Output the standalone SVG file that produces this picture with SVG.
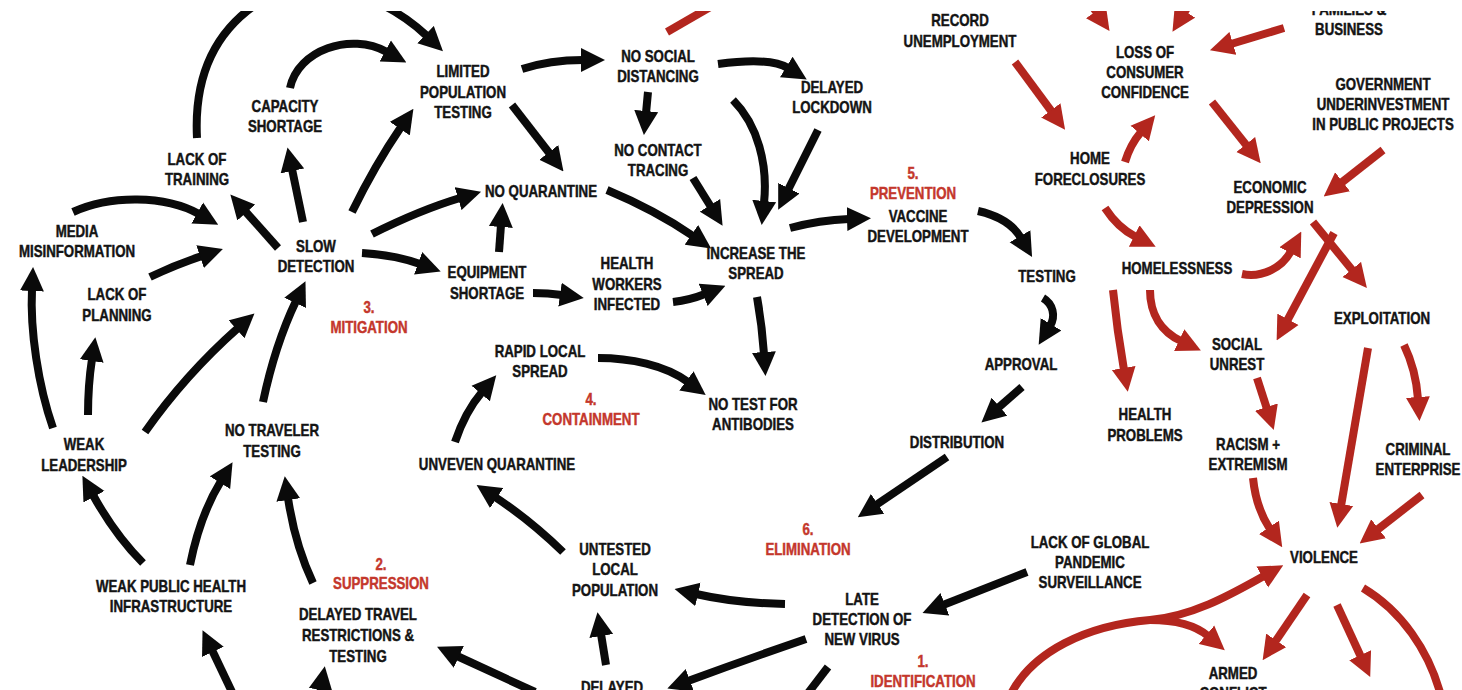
<svg xmlns="http://www.w3.org/2000/svg" width="1462" height="690" viewBox="0 0 1462 690">
<defs>
<style>
text{font-family:"Liberation Sans",Arial,sans-serif;font-weight:bold;font-size:16px;text-anchor:middle;fill:#141414;stroke:#141414;stroke-width:0.45}
.lbl text{fill:#c4372c;stroke:#c4372c}
.k{fill:none;stroke:#0a0a0a;stroke-width:8;marker-end:url(#hk)}
.kn{fill:none;stroke:#0a0a0a;stroke-width:8}
.r{fill:none;stroke:#b3261e;stroke-width:8;marker-end:url(#hr)}
.rn{fill:none;stroke:#b3261e;stroke-width:8}
</style>
<marker id="hk" viewBox="0 0 24 24" refX="2" refY="12" markerWidth="24" markerHeight="25" markerUnits="userSpaceOnUse" orient="auto"><path d="M0,0 L24,12 L0,24 z" fill="#0a0a0a"/></marker>
<marker id="hr" viewBox="0 0 24 24" refX="2" refY="12" markerWidth="24" markerHeight="25" markerUnits="userSpaceOnUse" orient="auto"><path d="M0,0 L24,12 L0,24 z" fill="#b3261e"/></marker>
</defs>
<rect width="1462" height="690" fill="#fff"/>
<g id="connectors">
<path class="kn" d="M197,138 C194,80 212,35 255,5"/>
<path class="k" d="M290,88 C298,50 350,32 387,52"/>
<path class="k" d="M383,5 Q408,18 427,36"/>
<path class="k" d="M522,69 Q550,60 583,60"/>
<path class="k" d="M718,64 C748,60 775,60 788,68"/>
<path class="k" d="M648,92 L646,113"/>
<path class="k" d="M733,100 C758,125 768,165 764,203"/>
<path class="k" d="M818,130 L788,190"/>
<path class="k" d="M693,178 L711,207"/>
<path class="k" d="M512,105 L550,154"/>
<path class="k" d="M607,190 Q655,210 693,236"/>
<path class="k" d="M372,234 Q420,210 460,198"/>
<path class="k" d="M352,212 Q375,165 401,127"/>
<path class="k" d="M303,222 L292,169"/>
<path class="k" d="M278,248 L245,211"/>
<path class="k" d="M362,253 Q395,255 420,264"/>
<path class="k" d="M499,252 L501,225"/>
<path class="k" d="M533,293 Q548,293 562,295"/>
<path class="k" d="M673,302 Q690,300 705,294"/>
<path class="k" d="M790,228 Q820,220 849,219"/>
<path class="k" d="M757,297 Q762,325 764,354"/>
<path class="k" d="M978,211 C1000,216 1014,226 1021,238"/>
<path class="k" d="M1043,298 C1053,304 1056,316 1050,326"/>
<path class="k" d="M1022,387 L998,408"/>
<path class="k" d="M947,457 L876,505"/>
<path class="k" d="M1027,572 L943,605"/>
<path class="k" d="M785,604 Q735,603 696,594"/>
<path class="k" d="M806,639 Q745,660 688,681"/>
<path class="kn" d="M828,667 L805,697"/>
<path class="k" d="M606,665 L601,634"/>
<path class="k" d="M535,692 L457,656"/>
<path class="k" d="M318,705 L321,688"/>
<path class="k" d="M232,692 L212,650"/>
<path class="k" d="M143,563 Q115,535 93,495"/>
<path class="k" d="M190,565 Q200,515 221,481"/>
<path class="k" d="M313,583 Q295,545 288,498"/>
<path class="k" d="M263,402 Q275,345 296,301"/>
<path class="k" d="M145,432 Q185,375 238,328"/>
<path class="k" d="M88,415 Q88,385 92,359"/>
<path class="k" d="M53,428 C38,385 30,330 32,289"/>
<path class="k" d="M150,277 Q175,265 202,256"/>
<path class="k" d="M73,212 C110,195 165,195 199,214"/>
<path class="k" d="M563,552 Q530,520 495,497"/>
<path class="k" d="M455,442 Q465,412 482,392"/>
<path class="k" d="M598,358 C630,358 665,365 688,382"/>
<path class="rn" d="M667,32 L712,6"/>
<path class="r" d="M1088,0 L1097,13"/>
<path class="r" d="M1192,0 L1184,13"/>
<path class="r" d="M1284,28 L1231,44"/>
<path class="r" d="M1015,62 L1052,112"/>
<path class="r" d="M1125,162 Q1130,145 1141,132"/>
<path class="r" d="M1212,102 L1247,146"/>
<path class="r" d="M1383,150 L1341,183"/>
<path class="r" d="M1105,208 Q1118,228 1136,237"/>
<path class="r" d="M1242,274 C1262,278 1282,268 1291,251"/>
<path class="r" d="M1313,222 L1353,271"/>
<path class="r" d="M1334,233 L1287,321"/>
<path class="r" d="M1113,290 Q1117,330 1124,370"/>
<path class="r" d="M1150,290 C1150,315 1162,332 1181,341"/>
<path class="r" d="M1257,378 L1267,409"/>
<path class="r" d="M1253,478 Q1256,508 1270,529"/>
<path class="r" d="M1368,348 L1341,506"/>
<path class="r" d="M1404,345 Q1416,370 1418,399"/>
<path class="r" d="M1422,495 L1377,530"/>
<path class="r" d="M1008,700 C1030,650 1090,625 1150,620 C1195,616 1235,592 1264,576"/>
<path class="r" d="M1150,620 C1175,620 1195,625 1208,636"/>
<path class="r" d="M1307,595 L1275,642"/>
<path class="r" d="M1337,605 L1361,657"/>
<path class="rn" d="M1363,588 C1400,610 1430,650 1442,700"/>
</g>
<g id="n_lack_training" transform="translate(197,0) scale(0.83,1)"><text x="0" y="165">LACK OF</text><text x="0" y="185">TRAINING</text></g>
<g id="n_capacity" transform="translate(285,0) scale(0.83,1)"><text x="0" y="112">CAPACITY</text><text x="0" y="132">SHORTAGE</text></g>
<g id="n_media" transform="translate(77,0) scale(0.83,1)"><text x="0" y="237">MEDIA</text><text x="0" y="257">MISINFORMATION</text></g>
<g id="n_slow" transform="translate(316,0) scale(0.83,1)"><text x="0" y="252">SLOW</text><text x="0" y="272">DETECTION</text></g>
<g id="n_lack_planning" transform="translate(117,0) scale(0.83,1)"><text x="0" y="300">LACK OF</text><text x="0" y="321">PLANNING</text></g>
<g id="lbl_mitigation" class="lbl" transform="translate(369,0) scale(0.83,1)"><text x="0" y="313">3.</text><text x="0" y="333">MITIGATION</text></g>
<g id="n_weak_leadership" transform="translate(84,0) scale(0.83,1)"><text x="0" y="450">WEAK</text><text x="0" y="471">LEADERSHIP</text></g>
<g id="n_no_traveler" transform="translate(272,0) scale(0.83,1)"><text x="0" y="436">NO TRAVELER</text><text x="0" y="457">TESTING</text></g>
<g id="n_weak_public" transform="translate(171,0) scale(0.83,1)"><text x="0" y="592">WEAK PUBLIC HEALTH</text><text x="0" y="612">INFRASTRUCTURE</text></g>
<g id="lbl_suppression" class="lbl" transform="translate(381,0) scale(0.83,1)"><text x="0" y="570">2.</text><text x="0" y="589">SUPPRESSION</text></g>
<g id="n_delayed_travel" transform="translate(358,0) scale(0.83,1)"><text x="0" y="620">DELAYED TRAVEL</text><text x="0" y="641">RESTRICTIONS &amp;</text><text x="0" y="662">TESTING</text></g>
<g id="n_limited" transform="translate(463,0) scale(0.83,1)"><text x="0" y="77">LIMITED</text><text x="0" y="98">POPULATION</text><text x="0" y="118">TESTING</text></g>
<g id="n_no_social" transform="translate(658,0) scale(0.83,1)"><text x="0" y="62">NO SOCIAL</text><text x="0" y="82">DISTANCING</text></g>
<g id="n_no_contact" transform="translate(658,0) scale(0.83,1)"><text x="0" y="156">NO CONTACT</text><text x="0" y="176">TRACING</text></g>
<g id="n_no_quarantine" transform="translate(541,0) scale(0.83,1)"><text x="0" y="197">NO QUARANTINE</text></g>
<g id="n_equipment" transform="translate(487,0) scale(0.83,1)"><text x="0" y="278">EQUIPMENT</text><text x="0" y="299">SHORTAGE</text></g>
<g id="n_health_workers" transform="translate(627,0) scale(0.83,1)"><text x="0" y="269">HEALTH</text><text x="0" y="290">WORKERS</text><text x="0" y="310">INFECTED</text></g>
<g id="n_increase" transform="translate(756,0) scale(0.83,1)"><text x="0" y="259">INCREASE THE</text><text x="0" y="279">SPREAD</text></g>
<g id="n_delayed_lockdown" transform="translate(832,0) scale(0.83,1)"><text x="0" y="93">DELAYED</text><text x="0" y="113">LOCKDOWN</text></g>
<g id="lbl_prevention" class="lbl" transform="translate(913,0) scale(0.83,1)"><text x="0" y="179">5.</text><text x="0" y="199">PREVENTION</text></g>
<g id="n_vaccine" transform="translate(918,0) scale(0.83,1)"><text x="0" y="222">VACCINE</text><text x="0" y="242">DEVELOPMENT</text></g>
<g id="n_testing" transform="translate(1047,0) scale(0.83,1)"><text x="0" y="282">TESTING</text></g>
<g id="n_approval" transform="translate(1021,0) scale(0.83,1)"><text x="0" y="370">APPROVAL</text></g>
<g id="n_distribution" transform="translate(957,0) scale(0.83,1)"><text x="0" y="448">DISTRIBUTION</text></g>
<g id="n_rapid" transform="translate(540,0) scale(0.83,1)"><text x="0" y="357">RAPID LOCAL</text><text x="0" y="377">SPREAD</text></g>
<g id="lbl_containment" class="lbl" transform="translate(591,0) scale(0.83,1)"><text x="0" y="405">4.</text><text x="0" y="425">CONTAINMENT</text></g>
<g id="n_no_test" transform="translate(753,0) scale(0.83,1)"><text x="0" y="410">NO TEST FOR</text><text x="0" y="430">ANTIBODIES</text></g>
<g id="n_unveven" transform="translate(497,0) scale(0.83,1)"><text x="0" y="470">UNVEVEN QUARANTINE</text></g>
<g id="n_untested" transform="translate(615,0) scale(0.83,1)"><text x="0" y="555">UNTESTED</text><text x="0" y="575">LOCAL</text><text x="0" y="596">POPULATION</text></g>
<g id="lbl_elimination" class="lbl" transform="translate(808,0) scale(0.83,1)"><text x="0" y="535">6.</text><text x="0" y="555">ELIMINATION</text></g>
<g id="n_lack_global" transform="translate(1090,0) scale(0.83,1)"><text x="0" y="548">LACK OF GLOBAL</text><text x="0" y="568">PANDEMIC</text><text x="0" y="588">SURVEILLANCE</text></g>
<g id="n_late" transform="translate(862,0) scale(0.83,1)"><text x="0" y="605">LATE</text><text x="0" y="625">DETECTION OF</text><text x="0" y="645">NEW VIRUS</text></g>
<g id="lbl_identification" class="lbl" transform="translate(923,0) scale(0.83,1)"><text x="0" y="667">1.</text><text x="0" y="687">IDENTIFICATION</text></g>
<g id="n_delayed_bottom" transform="translate(612,0) scale(0.83,1)"><text x="0" y="693">DELAYED</text></g>
<g id="n_record" transform="translate(960,0) scale(0.83,1)"><text x="0" y="26">RECORD</text><text x="0" y="47">UNEMPLOYMENT</text></g>
<g id="n_families" transform="translate(1349,0) scale(0.83,1)"><text x="0" y="15">FAMILIES &amp;</text><text x="0" y="35">BUSINESS</text></g>
<g id="n_loss" transform="translate(1145,0) scale(0.83,1)"><text x="0" y="58">LOSS OF</text><text x="0" y="78">CONSUMER</text><text x="0" y="98">CONFIDENCE</text></g>
<g id="n_government" transform="translate(1383,0) scale(0.83,1)"><text x="0" y="90">GOVERNMENT</text><text x="0" y="110">UNDERINVESTMENT</text><text x="0" y="130">IN PUBLIC PROJECTS</text></g>
<g id="n_home" transform="translate(1090,0) scale(0.83,1)"><text x="0" y="164">HOME</text><text x="0" y="185">FORECLOSURES</text></g>
<g id="n_econ" transform="translate(1270,0) scale(0.83,1)"><text x="0" y="193">ECONOMIC</text><text x="0" y="213">DEPRESSION</text></g>
<g id="n_homeless" transform="translate(1177,0) scale(0.83,1)"><text x="0" y="274">HOMELESSNESS</text></g>
<g id="n_exploit" transform="translate(1382,0) scale(0.83,1)"><text x="0" y="324">EXPLOITATION</text></g>
<g id="n_social_unrest" transform="translate(1237,0) scale(0.83,1)"><text x="0" y="350">SOCIAL</text><text x="0" y="370">UNREST</text></g>
<g id="n_health_problems" transform="translate(1145,0) scale(0.83,1)"><text x="0" y="420">HEALTH</text><text x="0" y="441">PROBLEMS</text></g>
<g id="n_racism" transform="translate(1248,0) scale(0.83,1)"><text x="0" y="450">RACISM +</text><text x="0" y="470">EXTREMISM</text></g>
<g id="n_criminal" transform="translate(1418,0) scale(0.83,1)"><text x="0" y="455">CRIMINAL</text><text x="0" y="475">ENTERPRISE</text></g>
<g id="n_violence" transform="translate(1324,0) scale(0.83,1)"><text x="0" y="563">VIOLENCE</text></g>
<g id="n_armed" transform="translate(1233,0) scale(0.83,1)"><text x="0" y="679">ARMED</text><text x="0" y="699">CONFLICT</text></g>
<rect x="0" y="0" width="1462" height="11" fill="#fff"/>
</svg>
